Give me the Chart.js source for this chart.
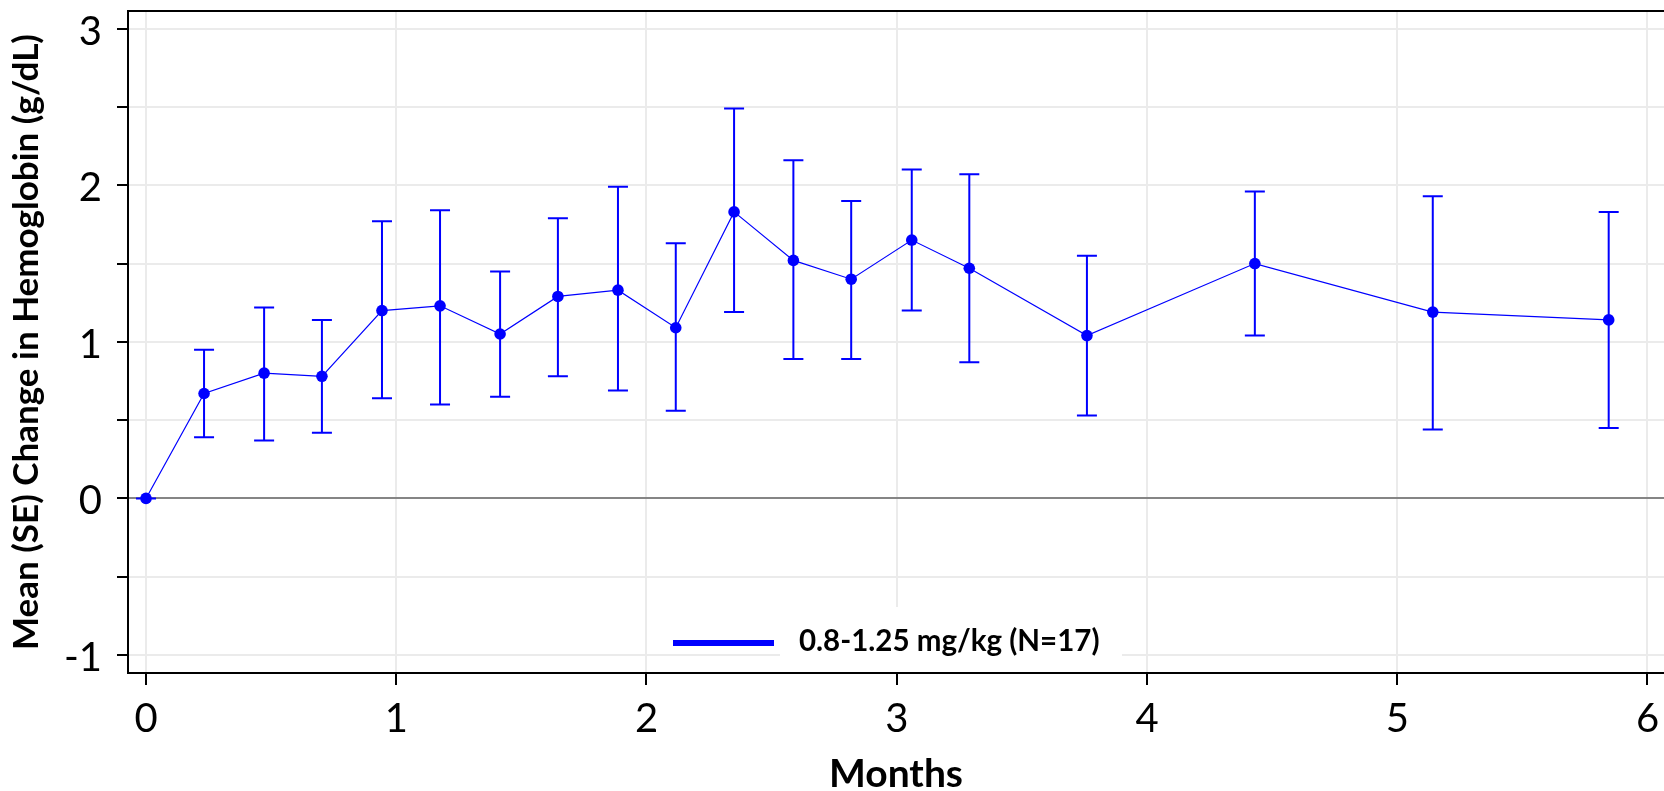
<!DOCTYPE html>
<html>
<head>
<meta charset="utf-8">
<script src="https://cdn.jsdelivr.net/npm/chart.js@4/dist/chart.umd.min.js"></script>
<style>
  html, body { margin: 0; padding: 0; background: #fff; overflow: hidden; }
  #wrap { width: 1664px; height: 791px; }
  canvas { display: block; }
</style>
</head>
<body>
<div id="wrap"><canvas id="hbChart" width="1664" height="791"></canvas></div>
<script>
// --- DATA ---

// visit time, in months
const months = [0, 0.232, 0.472, 0.703, 0.943, 1.175, 1.415, 1.646, 1.886, 2.117,
                2.350, 2.587, 2.818, 3.060, 3.290, 3.760, 4.431, 5.142, 5.845];

// mean change in hemoglobin (g/dL)
const meanChange = [0, 0.67, 0.80, 0.78, 1.20, 1.23, 1.05, 1.29, 1.33, 1.09,
                    1.83, 1.52, 1.40, 1.65, 1.47, 1.04, 1.50, 1.19, 1.14];

// mean - SE and mean + SE
const seLower = [0, 0.39, 0.37, 0.42, 0.64, 0.60, 0.65, 0.78, 0.69, 0.56,
                 1.19, 0.89, 0.89, 1.20, 0.87, 0.53, 1.04, 0.44, 0.45];
const seUpper = [0, 0.95, 1.22, 1.14, 1.77, 1.84, 1.45, 1.79, 1.99, 1.63,
                 2.49, 2.16, 1.90, 2.10, 2.07, 1.55, 1.96, 1.93, 1.83];

const xTicks = [0, 1, 2, 3, 4, 5, 6];
const yTicks = [-1, -0.5, 0, 0.5, 1, 1.5, 2, 2.5, 3];

const seriesLabel = '0.8-1.25 mg/kg (N=17)';
const xTitle = 'Months';
const yTitle = 'Mean (SE) Change in Hemoglobin (g/dL)';

const BLUE = '#0000ff';
const GRID = '#ebebeb';


// --- PLUGINS ---

// vertical SE bars with caps
const errorBars = {
    id: 'errorBars',
    afterDatasetsDraw(chart) {
        const { ctx, scales: { x, y } } = chart;
        ctx.save();
        ctx.strokeStyle = BLUE;
        ctx.lineWidth = 2;
        months.forEach((m, i) => {
            const px = x.getPixelForValue(m);
            const top = y.getPixelForValue(seUpper[i]);
            const bot = y.getPixelForValue(seLower[i]);
            ctx.beginPath();
            ctx.moveTo(px, top);
            ctx.lineTo(px, bot);
            ctx.moveTo(px - 10, top);
            ctx.lineTo(px + 10, top);
            ctx.moveTo(px - 10, bot);
            ctx.lineTo(px + 10, bot);
            ctx.stroke();
        });
        ctx.restore();
    }
};

// legend box sitting inside the plot, at the bottom
const insideLegend = {
    id: 'insideLegend',
    beforeDatasetsDraw(chart) {
        const { ctx, chartArea: a } = chart;
        ctx.save();
        ctx.fillStyle = '#fff';
        ctx.fillRect(a.left + 652, a.bottom - 66, 342, 65);
        ctx.strokeStyle = BLUE;
        ctx.lineWidth = 6;
        ctx.beginPath();
        ctx.moveTo(a.left + 545, a.bottom - 30);
        ctx.lineTo(a.left + 646, a.bottom - 30);
        ctx.stroke();
        ctx.fillStyle = '#000';
        ctx.font = 'bold 29.5px Lato';
        ctx.textBaseline = 'alphabetic';
        ctx.fillText(seriesLabel, a.left + 671, a.bottom - 22);
        ctx.restore();
    }
};

// top frame line (no right frame in the picture)
const topFrame = {
    id: 'topFrame',
    afterDraw(chart) {
        const { ctx, chartArea: a } = chart;
        ctx.save();
        ctx.strokeStyle = '#000';
        ctx.lineWidth = 2;
        ctx.beginPath();
        ctx.moveTo(a.left - 1, a.top);
        ctx.lineTo(a.right, a.top);
        ctx.stroke();
        ctx.restore();
    }
};


// --- CHART ---

function drawChart() {
    new Chart(document.getElementById('hbChart'), {
        type: 'line',
        data: {
            datasets: [{
                label: seriesLabel,
                data: months.map((m, i) => ({ x: m, y: meanChange[i] })),
                borderColor: BLUE,
                backgroundColor: BLUE,
                borderWidth: 1.2,
                pointRadius: 5.8,
                pointBorderWidth: 0,
                pointBackgroundColor: BLUE,
                tension: 0
            }]
        },
        options: {
            responsive: false,
            animation: false,
            layout: { autoPadding: false, padding: { top: 11, right: 0, bottom: 0, left: 0 } },
            plugins: {
                legend: { display: false },
                tooltip: { enabled: false }
            },
            scales: {
                x: {
                    type: 'linear',
                    position: 'bottom',
                    min: -0.0719,
                    max: 6.066,
                    afterBuildTicks: (axis) => { axis.ticks = xTicks.map(v => ({ value: v })); },
                    afterFit: (axis) => {
                        axis.height = 118;
                        axis.paddingLeft = 0;
                        axis.paddingRight = 0;
                    },
                    grid: {
                        color: GRID,
                        lineWidth: 2,
                        tickColor: '#000',
                        tickLength: 12,
                        tickWidth: 2
                    },
                    border: { display: true, color: '#000', width: 2 },
                    ticks: {
                        autoSkip: false,
                        maxRotation: 0,
                        padding: 10,
                        color: '#000',
                        font: { family: 'Lato', size: 40 }
                    },
                    title: {
                        display: true,
                        text: xTitle,
                        color: '#000',
                        font: { family: 'Lato', weight: 'bold', size: 39, lineHeight: 1 },
                        padding: { top: 0, bottom: -3 }
                    }
                },
                y: {
                    type: 'linear',
                    min: -1.115,
                    max: 3.113,
                    afterBuildTicks: (axis) => { axis.ticks = yTicks.map(v => ({ value: v })); },
                    afterFit: (axis) => {
                        axis.width = 128;
                        axis.paddingTop = 0;
                        axis.paddingBottom = 0;
                    },
                    grid: {
                        color: (c) => (c.tick && c.tick.value === 0 ? '#858585' : GRID),
                        lineWidth: 2,
                        tickColor: '#000',
                        tickLength: 11,
                        tickWidth: 2
                    },
                    border: { display: true, color: '#000', width: 2 },
                    ticks: {
                        autoSkip: false,
                        padding: 15,
                        labelOffset: 3,
                        color: '#000',
                        font: { family: 'Lato', size: 40 },
                        callback: (v) => (Number.isInteger(v) ? String(v) : '')
                    },
                    title: {
                        display: true,
                        text: yTitle,
                        color: '#000',
                        font: { family: 'Lato', weight: 'bold', size: 35, lineHeight: 1 },
                        padding: { top: 9, bottom: 0 }
                    }
                }
            }
        },
        plugins: [insideLegend, errorBars, topFrame]
    });
}

Promise.all([
    document.fonts.load('40px Lato'),
    document.fonts.load('bold 35px Lato')
]).then(drawChart, drawChart);
</script>
</body>
</html>
